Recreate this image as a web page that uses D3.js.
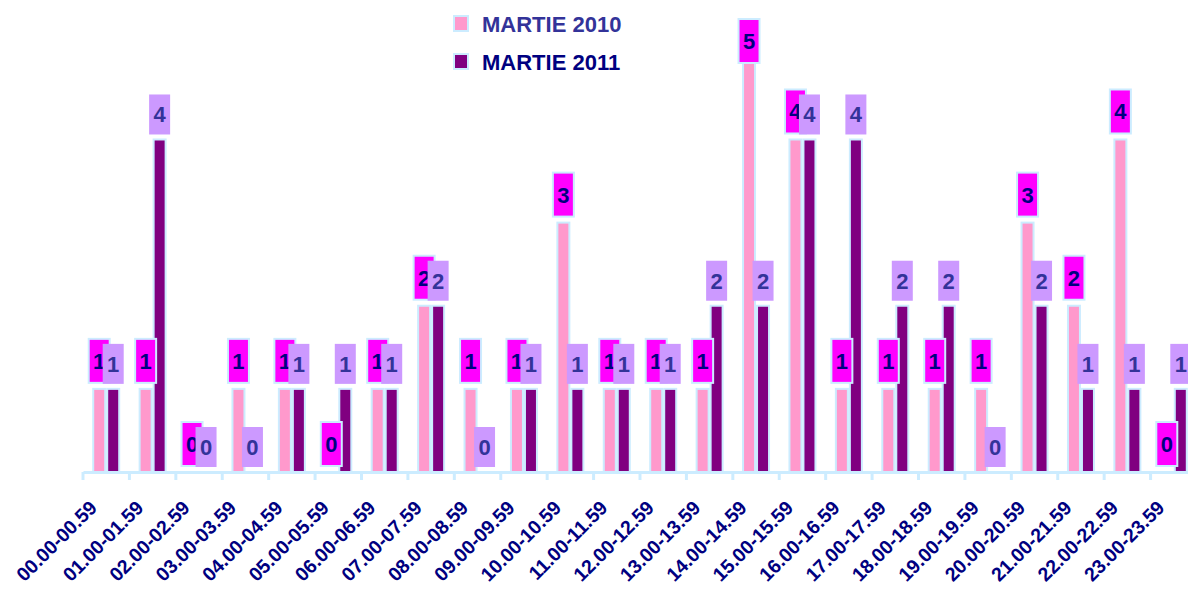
<!DOCTYPE html>
<html>
<head>
<meta charset="utf-8">
<script src="https://cdn.jsdelivr.net/npm/d3@7"></script>
<style>
  body { margin: 0; background: #fff; }
  svg { display: block; font-family: "Liberation Sans", Arial, sans-serif; }
</style>
</head>
<body>
<div id="chart"></div>
<script>
const categories = ["00.00-00.59", "01.00-01.59", "02.00-02.59", "03.00-03.59", "04.00-04.59",
  "05.00-05.59", "06.00-06.59", "07.00-07.59", "08.00-08.59", "09.00-09.59", "10.00-10.59",
  "11.00-11.59", "12.00-12.59", "13.00-13.59", "14.00-14.59", "15.00-15.59", "16.00-16.59",
  "17.00-17.59", "18.00-18.59", "19.00-19.59", "20.00-20.59", "21.00-21.59", "22.00-22.59",
  "23.00-23.59"];
const martie2010 = [1, 1, 0, 1, 1, 0, 1, 2, 1, 1, 3, 1, 1, 1, 5, 4, 1, 1, 1, 1, 3, 2, 4, 0];
const martie2011 = [1, 4, 0, 0, 1, 1, 1, 2, 0, 1, 1, 1, 1, 2, 2, 4, 4, 2, 2, 0, 2, 1, 1, 1];
const seriesNames = ["MARTIE 2010", "MARTIE 2011"];

const W = 1188, H = 589;
const outline = "#CCECFF";
const series = [
  { name: seriesNames[0], values: martie2010, fill: "#FF99CC", box: "#FF00FF", boxStroke: outline,
    text: "#000080", legendText: "#333399", boxOff: 50, boxH: 44 },
  { name: seriesNames[1], values: martie2011, fill: "#800080", box: "#CC99FF", boxStroke: "none",
    text: "#333399", legendText: "#000080", boxOff: 45, boxH: 40 }
];

const svg = d3.select("#chart").append("svg").attr("width", W).attr("height", H);

const x = d3.scaleBand().domain(categories).range([83, 1197]);
const xs = d3.scaleBand().domain([0, 1]).range([-13, 13]).paddingInner(0.1429);
const y = d3.scaleLinear().domain([0, 4.92]).range([472, 63]);

// bars
series.forEach((s, si) => {
  svg.append("g").selectAll("rect")
    .data(s.values)
    .join("rect")
    .attr("x", (d, i) => x(categories[i]) + x.bandwidth() / 2 + xs(si))
    .attr("y", d => y(d))
    .attr("width", xs.bandwidth())
    .attr("height", d => y(0) - y(d))
    .attr("fill", s.fill)
    .attr("stroke", outline)
    .attr("stroke-width", 2);
});

// axis line and ticks
const axis = svg.append("g").attr("transform", `translate(0,${y(0)})`)
  .call(d3.axisBottom(x).tickSize(0).tickFormat(""));
axis.select(".domain").attr("stroke", outline).attr("stroke-width", 3);
svg.append("g").selectAll("line")
  .data(categories.concat(["end"]))
  .join("line")
  .attr("x1", (d, i) => x.range()[0] + i * x.step())
  .attr("x2", (d, i) => x.range()[0] + i * x.step())
  .attr("y1", y(0))
  .attr("y2", y(0) + 8)
  .attr("stroke", outline)
  .attr("stroke-width", 3);

// x labels
svg.append("g").selectAll("text")
  .data(categories)
  .join("text")
  .attr("transform", d => `translate(${x(d) + x.bandwidth() / 2 - 8},${y(0) + 37}) rotate(-45)`)
  .attr("text-anchor", "end")
  .attr("fill", "#000080")
  .attr("font-weight", "bold")
  .attr("font-size", 19.5)
  .text(d => d);

// value labels
series.forEach((s, si) => {
  const g = svg.append("g").selectAll("g")
    .data(s.values)
    .join("g")
    .attr("transform", (d, i) => {
      const cx = x(categories[i]) + x.bandwidth() / 2 + xs(si) + xs.bandwidth() / 2;
      const top = Math.max(y(d) - s.boxOff, 19);
      return `translate(${cx},${top})`;
    });
  g.append("rect")
    .attr("x", -10.5)
    .attr("width", 21)
    .attr("height", s.boxH)
    .attr("fill", s.box)
    .attr("stroke", s.boxStroke)
    .attr("stroke-width", 2);
  g.append("text")
    .attr("y", s.boxH / 2 + 8)
    .attr("text-anchor", "middle")
    .attr("fill", s.text)
    .attr("font-weight", "bold")
    .attr("font-size", 22)
    .text(d => d);
});

// legend
const legend = svg.append("g").selectAll("g")
  .data(series)
  .join("g")
  .attr("transform", (d, i) => `translate(454,${16 + i * 38})`);
legend.append("rect")
  .attr("width", 14)
  .attr("height", 15)
  .attr("fill", d => d.fill)
  .attr("stroke", outline)
  .attr("stroke-width", 2);
legend.append("text")
  .attr("x", 28)
  .attr("y", 16)
  .attr("fill", d => d.legendText)
  .attr("font-weight", "bold")
  .attr("font-size", 22)
  .text(d => d.name);
</script>
</body>
</html>
